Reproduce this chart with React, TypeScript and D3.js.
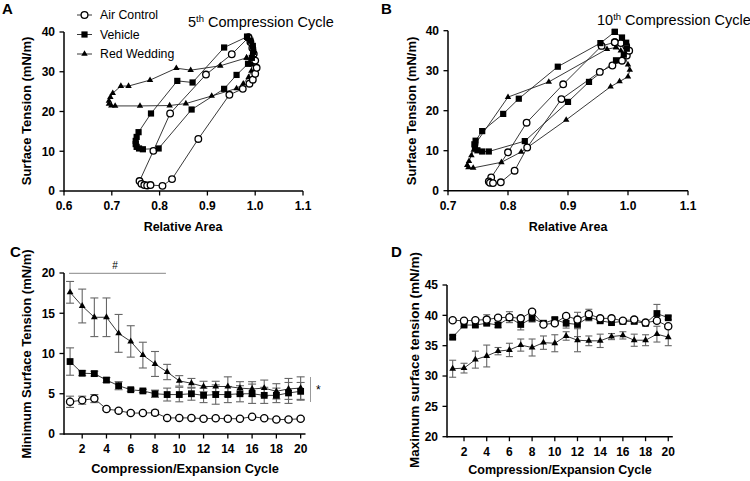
import React from 'react';
import * as d3 from 'd3';

const FONT = "'Liberation Sans', Arial, Helvetica, sans-serif";

// ---------- Panel A: 5th compression cycle (relative area, surface tension) ----------
const aAirControl: [number, number][] = [
  [0.986, 38.6], [0.951, 34.4], [0.897, 29.3], [0.822, 19.5], [0.787, 10.1], [0.758, 2.5],
  [0.762, 1.8], [0.768, 1.5], [0.774, 1.4], [0.781, 1.5], [0.806, 1.3], [0.826, 3.0],
  [0.881, 13.1], [0.946, 24.2], [0.974, 25.7], [0.988, 27.0], [0.995, 28.0], [1.0, 29.5],
  [1.003, 31.0], [1.0, 32.8], [0.997, 34.5], [0.994, 36.0], [0.99, 37.5], [0.986, 38.6],
];
const aVehicle: [number, number][] = [
  [0.983, 38.8], [0.935, 36.1], [0.869, 27.3], [0.837, 27.7], [0.782, 19.5], [0.756, 14.8],
  [0.752, 13.6], [0.75, 12.6], [0.75, 11.8], [0.752, 11.1], [0.757, 10.7], [0.765, 10.5],
  [0.798, 10.7], [0.867, 20.5], [0.935, 25.7], [0.961, 29.2], [0.985, 32.0], [0.993, 33.5],
  [0.996, 35.0], [0.995, 36.5], [0.99, 37.8], [0.983, 38.8],
];
const aRedWedding: [number, number][] = [
  [0.982, 33.5], [0.927, 31.5], [0.865, 30.4], [0.835, 30.9], [0.78, 27.9], [0.735, 26.4],
  [0.719, 26.4], [0.702, 24.6], [0.697, 23.6], [0.694, 22.7], [0.694, 21.9], [0.699, 21.5],
  [0.707, 21.4], [0.759, 21.4], [0.821, 21.5], [0.855, 22.0], [0.909, 23.9], [0.961, 25.8],
  [0.975, 27.0], [0.986, 28.6], [0.992, 30.2], [0.993, 31.8], [0.982, 33.5],
];

// ---------- Panel B: 10th compression cycle ----------
const bAirControl: [number, number][] = [
  [0.978, 37.1], [0.956, 36.2], [0.892, 26.6], [0.831, 17.0], [0.8, 9.6], [0.772, 3.3],
  [0.768, 2.3], [0.77, 2.0], [0.775, 1.9], [0.788, 2.1], [0.811, 5.0], [0.832, 10.8],
  [0.889, 22.9], [0.953, 29.7], [0.974, 31.3], [0.99, 32.5], [0.998, 33.8], [1.002, 35.0],
  [0.997, 36.2], [0.988, 36.9], [0.978, 37.1],
];
const bVehicle: [number, number][] = [
  [0.978, 39.7], [0.954, 36.9], [0.883, 31.0], [0.818, 23.0], [0.792, 19.2], [0.757, 14.9],
  [0.746, 12.5], [0.744, 11.6], [0.745, 10.8], [0.749, 10.1], [0.757, 9.8], [0.768, 9.8],
  [0.828, 12.4], [0.9, 22.2], [0.935, 27.2], [0.98, 32.6], [0.993, 34.0], [0.998, 35.5],
  [0.997, 37.0], [0.99, 38.3], [0.978, 39.7],
];
const bRedWedding: [number, number][] = [
  [0.98, 35.8], [0.965, 35.4], [0.868, 27.2], [0.8, 23.4], [0.746, 11.8], [0.743, 10.2],
  [0.739, 8.8], [0.735, 7.4], [0.732, 6.4], [0.734, 5.8], [0.742, 5.7], [0.789, 7.1],
  [0.822, 9.7], [0.897, 17.7], [0.971, 26.0], [0.986, 27.3], [1.0, 28.5], [1.003, 30.2],
  [1.0, 31.5], [0.995, 33.5], [0.988, 35.0], [0.98, 35.8],
];

// ---------- Panels C & D: cycles ----------
const cycles = [1, 2, 3, 4, 5, 6, 7, 8, 9, 10, 11, 12, 13, 14, 15, 16, 17, 18, 19, 20];

const cAirMean = [4.0, 4.2, 4.4, 3.1, 2.9, 2.6, 2.6, 2.65, 2.0, 2.0, 2.0, 1.9, 1.95, 1.9, 1.9, 2.15, 1.95, 1.8, 1.8, 1.9];
const cAirErr = [0.7, 0.5, 0.5, 0.15, 0.15, 0.15, 0.15, 0.3, 0.1, 0.1, 0.1, 0.1, 0.1, 0.1, 0.1, 0.1, 0.1, 0.1, 0.1, 0.1];
const cVehMean = [9.0, 7.55, 7.5, 6.7, 6.0, 5.5, 5.35, 5.0, 4.9, 4.9, 5.0, 4.8, 4.9, 4.9, 5.0, 5.0, 4.8, 4.8, 5.1, 5.3];
const cVehErr = [1.7, 0.3, 0.3, 0.3, 0.5, 0.2, 0.2, 0.45, 0.8, 0.9, 0.8, 0.9, 1.2, 1.0, 1.0, 1.2, 1.0, 0.9, 1.3, 1.1];
const cRwMean = [17.6, 15.9, 14.5, 14.5, 12.5, 11.5, 9.8, 8.7, 7.7, 6.6, 6.3, 5.9, 5.9, 5.9, 5.7, 5.6, 5.7, 5.3, 5.6, 5.7];
const cRwErr = [1.35, 2.1, 2.4, 2.4, 2.35, 1.95, 1.6, 1.55, 0.95, 0.65, 0.6, 0.65, 0.65, 1.2, 0.8, 0.9, 1.0, 0.95, 1.3, 1.4];

const dAirMean = [39.2, 39.1, 39.2, 39.3, 39.6, 39.7, 39.5, 40.6, 38.5, 38.7, 39.9, 39.3, 40.2, 39.5, 39.5, 39.1, 39.3, 38.8, 39.1, 38.2];
const dAirErr = [0.3, 0.3, 0.3, 0.8, 0.3, 0.9, 0.3, 0.3, 0.3, 0.3, 0.3, 0.3, 0.8, 0.3, 0.3, 0.3, 0.3, 0.3, 0.3, 0.3];
const dVehMean = [36.4, 38.4, 38.4, 38.7, 38.4, 39.6, 38.5, 39.5, 38.7, 39.3, 38.7, 38.5, 39.7, 39.1, 38.8, 39.0, 39.0, 38.7, 40.3, 39.6];
const dVehErr = [0.3, 0.3, 0.3, 0.3, 0.4, 0.3, 0.9, 0.6, 0.3, 0.3, 0.8, 2.0, 0.6, 0.3, 0.3, 0.3, 0.3, 0.3, 1.5, 0.3];
const dRwMean = [31.2, 31.3, 32.7, 33.3, 34.1, 34.3, 35.1, 34.7, 35.5, 35.4, 36.6, 35.9, 35.8, 35.8, 36.5, 36.7, 35.9, 35.9, 36.9, 36.4];
const dRwErr = [1.4, 0.8, 1.4, 1.8, 0.6, 1.1, 1.0, 1.4, 1.1, 1.4, 0.7, 1.9, 0.8, 1.1, 0.5, 0.6, 1.0, 0.9, 1.3, 1.4];

const legendLabels = ['Air Control', 'Vehicle', 'Red Wedding'];

type MType = 'circle' | 'square' | 'triangle';

function Marker({ type, x, y, r = 3.4, sq = 6.4, tri = 20 }: { type: MType; x: number; y: number; r?: number; sq?: number; tri?: number }) {
  if (type === 'circle') return <circle cx={x} cy={y} r={r} fill="#fff" stroke="#000" strokeWidth={1.3} />;
  if (type === 'square') return <rect x={x - sq / 2} y={y - sq / 2} width={sq} height={sq} fill="#000" />;
  const d = d3.symbol(d3.symbolTriangle, tri)() as string;
  return <path d={d} transform={`translate(${x},${y})`} fill="#000" />;
}

function Axes({ xs, ys, xTicks, yTicks, xFmt, yFmt }: any) {
  const x0 = xs.range()[0], x1 = xs.range()[1];
  const y0 = ys.range()[0], y1 = ys.range()[1];
  return (
    <g fontFamily={FONT} fontWeight="bold" fontSize={12} fill="#000">
      <line x1={x0} x2={x1} y1={y0} y2={y0} stroke="#000" strokeWidth={1.5} />
      <line x1={x0} x2={x0} y1={y0 + 0.75} y2={y1} stroke="#000" strokeWidth={1.5} />
      {xTicks.map((t: number) => (
        <g key={'x' + t}>
          <line x1={xs(t)} x2={xs(t)} y1={y0} y2={y0 + 4.5} stroke="#000" strokeWidth={1.3} />
          <text x={xs(t)} y={y0 + 19} textAnchor="middle">{xFmt(t)}</text>
        </g>
      ))}
      {yTicks.map((t: number) => (
        <g key={'y' + t}>
          <line x1={x0 - 4.5} x2={x0} y1={ys(t)} y2={ys(t)} stroke="#000" strokeWidth={1.3} />
          <text x={x0 - 9} y={ys(t)} dy="0.36em" textAnchor="end">{yFmt(t)}</text>
        </g>
      ))}
    </g>
  );
}

function LoopPanel({ xs, ys, series }: any) {
  const line = d3.line<[number, number]>().x((d) => xs(d[0])).y((d) => ys(d[1]));
  return (
    <g>
      {series.map((s: any, i: number) => (
        <path key={'l' + i} d={line(s.data) as string} fill="none" stroke="#222" strokeWidth={0.9} />
      ))}
      {series.map((s: any, i: number) => (
        <g key={'m' + i}>
          {s.data.map((d: [number, number], j: number) => (
            <Marker key={j} type={s.type} x={xs(d[0])} y={ys(d[1])} r={3.3} sq={6.2} tri={18} />
          ))}
        </g>
      ))}
    </g>
  );
}

function CyclePanel({ xs, ys, series, cap }: any) {
  return (
    <g>
      {series.map((s: any, i: number) => (
        <g key={'e' + i} stroke="#666" strokeWidth={1.1}>
          {cycles.map((c, j) => {
            const hi = ys(s.mean[j] + s.err[j]);
            const lo = ys(s.mean[j] - s.err[j]);
            const x = xs(c);
            return (
              <g key={j}>
                <line x1={x} x2={x} y1={hi} y2={lo} />
                <line x1={x - cap / 2} x2={x + cap / 2} y1={hi} y2={hi} />
                <line x1={x - cap / 2} x2={x + cap / 2} y1={lo} y2={lo} />
              </g>
            );
          })}
        </g>
      ))}
      {series.map((s: any, i: number) => {
        const line = d3.line<number>().x((_, j) => xs(cycles[j])).y((d) => ys(d));
        return <path key={'l' + i} d={line(s.mean) as string} fill="none" stroke="#222" strokeWidth={0.9} />;
      })}
      {series.map((s: any, i: number) => (
        <g key={'m' + i}>
          {s.mean.map((v: number, j: number) => (
            <Marker key={j} type={s.type} x={xs(cycles[j])} y={ys(v)} r={3.6} sq={6.8} tri={20} />
          ))}
        </g>
      ))}
    </g>
  );
}

export default function App() {
  const axA = d3.scaleLinear().domain([0.6, 1.1]).range([64, 303]);
  const ayA = d3.scaleLinear().domain([0, 40]).range([191, 32]);
  const axB = d3.scaleLinear().domain([0.7, 1.1]).range([448, 688]);
  const ayB = d3.scaleLinear().domain([0, 40]).range([190.7, 30.7]);
  const axC = d3.scaleLinear().domain([0.5, 20.4]).range([64, 305.5]);
  const ayC = d3.scaleLinear().domain([0, 20]).range([434, 273]);
  const axD = d3.scaleLinear().domain([0.5, 20.4]).range([447, 672.8]);
  const ayD = d3.scaleLinear().domain([20, 45]).range([436.7, 285]);

  const f1 = d3.format('.1f');
  const f0 = d3.format('d');

  const aSeries = [
    { type: 'triangle', data: aRedWedding },
    { type: 'circle', data: aAirControl },
    { type: 'square', data: aVehicle },
  ];
  const bSeries = [
    { type: 'triangle', data: bRedWedding },
    { type: 'circle', data: bAirControl },
    { type: 'square', data: bVehicle },
  ];
  const cSeries = [
    { type: 'triangle', mean: cRwMean, err: cRwErr },
    { type: 'square', mean: cVehMean, err: cVehErr },
    { type: 'circle', mean: cAirMean, err: cAirErr },
  ];
  const dSeries = [
    { type: 'triangle', mean: dRwMean, err: dRwErr },
    { type: 'square', mean: dVehMean, err: dVehErr },
    { type: 'circle', mean: dAirMean, err: dAirErr },
  ];
  const legendTypes: MType[] = ['circle', 'square', 'triangle'];
  const legendY = [15, 34.5, 54];

  return (
    <svg width={750} height={481} style={{ position: 'absolute', left: 0, top: 0, background: '#fff' }} fontFamily={FONT}>
      <rect width={750} height={481} fill="#fff" />
      {/* Panel letters */}
      <g fontWeight="bold" fontSize={15} fill="#000">
        <text x={2} y={14}>A</text>
        <text x={381} y={14}>B</text>
        <text x={10} y={257}>C</text>
        <text x={391} y={257}>D</text>
      </g>

      {/* Panel A */}
      <Axes xs={axA} ys={ayA} xTicks={[0.6, 0.7, 0.8, 0.9, 1.0, 1.1]} yTicks={[0, 10, 20, 30, 40]} xFmt={f1} yFmt={f0} />
      <LoopPanel xs={axA} ys={ayA} series={aSeries} />
      <text x={188} y={26.5} fontSize={14.5}>
        5<tspan fontSize={9.5} dy={-5}>th</tspan><tspan dy={5}> Compression Cycle</tspan>
      </text>
      <g>
        {legendLabels.map((l, i) => (
          <g key={l}>
            <line x1={77} x2={92} y1={legendY[i]} y2={legendY[i]} stroke="#222" strokeWidth={0.9} />
            <Marker type={legendTypes[i]} x={84.5} y={legendY[i]} r={3.4} sq={6.2} tri={18} />
            <text x={100} y={legendY[i]} dy="0.36em" fontSize={12.3}>{l}</text>
          </g>
        ))}
      </g>
      <text transform="translate(31,111) rotate(-90)" textAnchor="middle" fontWeight="bold" fontSize={13}>Surface Tension (mN/m)</text>
      <text x={183} y={231} textAnchor="middle" fontWeight="bold" fontSize={12.5}>Relative Area</text>

      {/* Panel B */}
      <Axes xs={axB} ys={ayB} xTicks={[0.7, 0.8, 0.9, 1.0, 1.1]} yTicks={[0, 10, 20, 30, 40]} xFmt={f1} yFmt={f0} />
      <LoopPanel xs={axB} ys={ayB} series={bSeries} />
      <text x={597} y={25} fontSize={14.5}>
        10<tspan fontSize={9.5} dy={-5}>th</tspan><tspan dy={5}> Compression Cycle</tspan>
      </text>
      <text transform="translate(416,111) rotate(-90)" textAnchor="middle" fontWeight="bold" fontSize={13}>Surface Tension (mN/m)</text>
      <text x={568} y={231} textAnchor="middle" fontWeight="bold" fontSize={12.5}>Relative Area</text>

      {/* Panel C */}
      <Axes xs={axC} ys={ayC} xTicks={[2, 4, 6, 8, 10, 12, 14, 16, 18, 20]} yTicks={[0, 5, 10, 15, 20]} xFmt={f0} yFmt={f0} />
      <CyclePanel xs={axC} ys={ayC} series={cSeries} cap={8} />
      <line x1={axC(1) - 1} x2={axC(8.9)} y1={273.3} y2={273.3} stroke="#888" strokeWidth={1} />
      <text x={115} y={269} textAnchor="middle" fontSize={10}>#</text>
      <line x1={310.5} x2={310.5} y1={377} y2={402} stroke="#999" strokeWidth={1} />
      <text x={316} y={394} fontSize={12}>*</text>
      <text transform="translate(31,354) rotate(-90)" textAnchor="middle" fontWeight="bold" fontSize={13}>Minimum Surface Tension (mN/m)</text>
      <text x={185} y={473} textAnchor="middle" fontWeight="bold" fontSize={12.8}>Compression/Expansion Cycle</text>

      {/* Panel D */}
      <Axes xs={axD} ys={ayD} xTicks={[2, 4, 6, 8, 10, 12, 14, 16, 18, 20]} yTicks={[20, 25, 30, 35, 40, 45]} xFmt={f0} yFmt={f0} />
      <CyclePanel xs={axD} ys={ayD} series={dSeries} cap={7} />
      <text transform="translate(419,360) rotate(-90)" textAnchor="middle" fontWeight="bold" fontSize={13.5}>Maximum surface tension (mN/m)</text>
      <text x={560} y={474} textAnchor="middle" fontWeight="bold" fontSize={12.5}>Compression/Expansion Cycle</text>
    </svg>
  );
}
